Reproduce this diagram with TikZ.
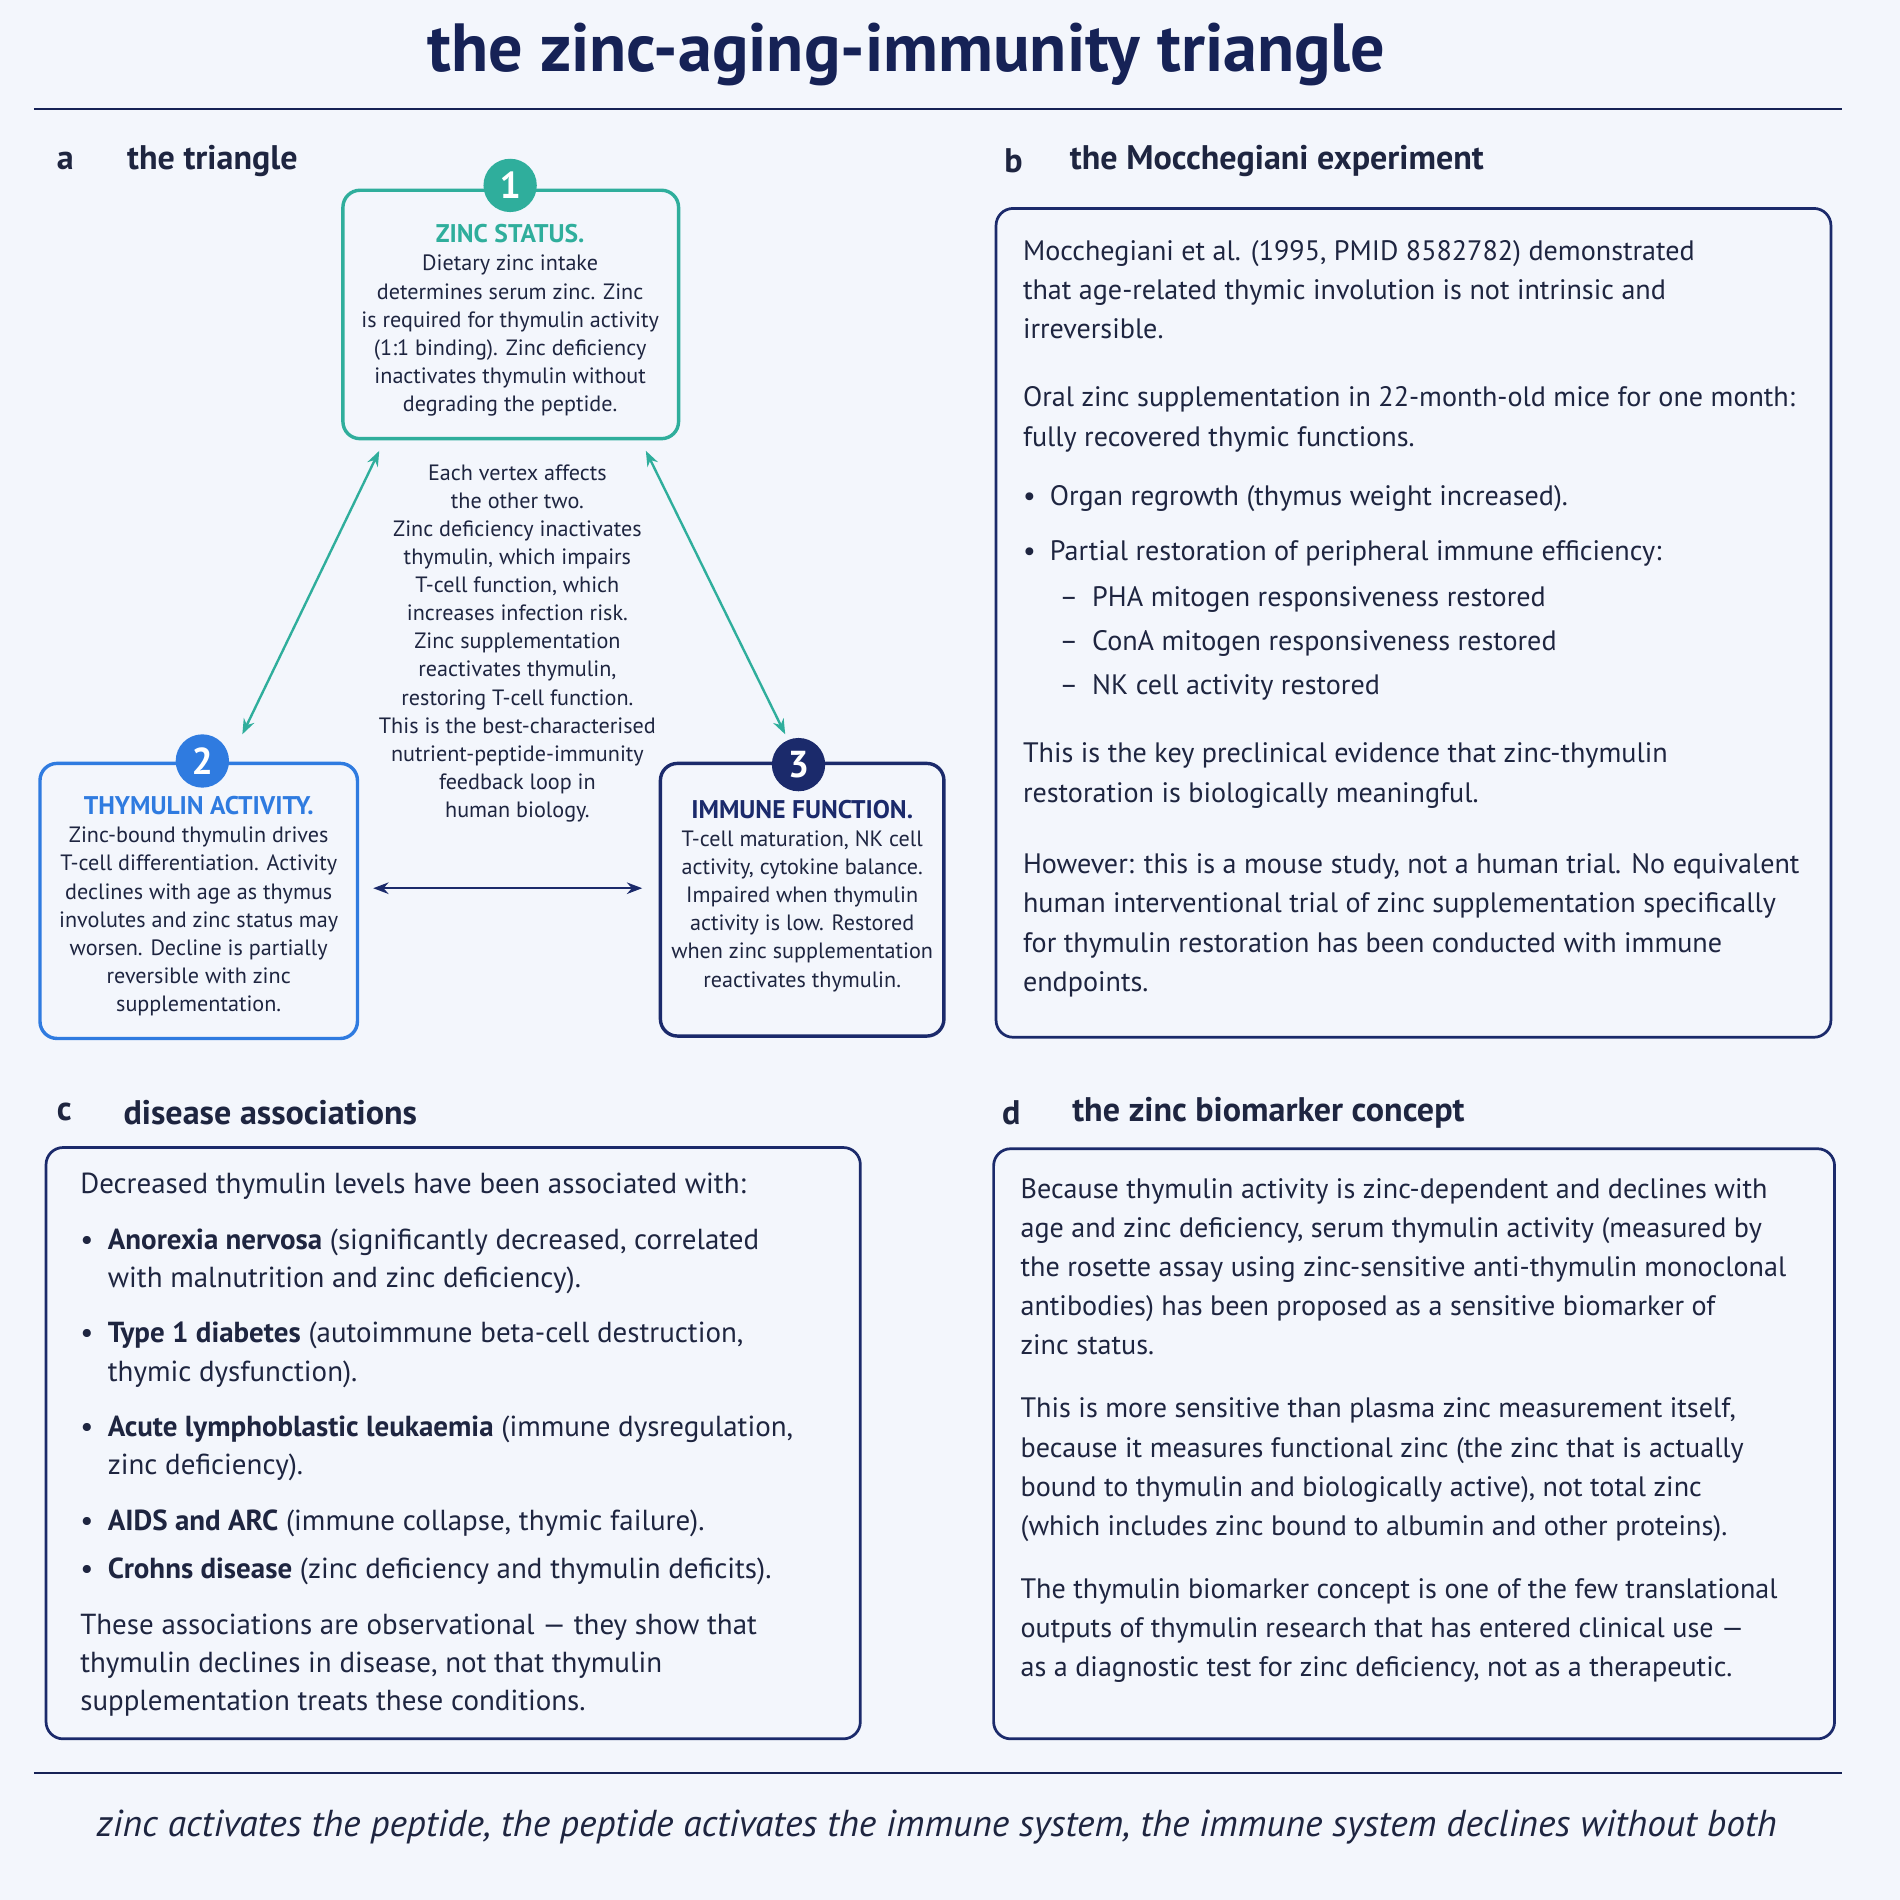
\documentclass[tikz,border=0pt]{standalone}
\usepackage{fontspec}
\setmainfont{PT Sans}
\usetikzlibrary{arrows.meta, positioning}
\definecolor{pagebg}{HTML}{F3F6FC}
\definecolor{inkc}{HTML}{1E2540}
\definecolor{navyc}{HTML}{1B2A6B}
\definecolor{tealc}{HTML}{2FAE9C}
\definecolor{bluec}{HTML}{2F7BE0}
\newcommand{\bul}{\textbullet\enspace}
\newcommand{\ind}{\phantom{\textbullet\enspace}}
\newcommand{\dsh}{\hspace*{1.3em}--\enspace}

\begin{document}
\begin{tikzpicture}[x=0.025cm, y=-0.025cm, text=inkc,
    panel/.style={draw=navyc, line width=1.6pt, rounded corners=10pt},
    vbox/.style={line width=2pt, rounded corners=10pt, fill=pagebg},
    badge/.style={circle, minimum size=1.1cm, inner sep=0pt, text=white, font=\fontsize{22}{22}\selectfont\bfseries},
    head/.style={anchor=west, font=\fontsize{20}{24}\selectfont\bfseries},
    body/.style={anchor=north west, inner sep=0pt, align=left, font=\fontsize{17}{22.5}\selectfont},
    wide/.style={body, font=\fontsize{16.5}{23}\selectfont},
    small/.style={anchor=north, inner sep=0pt, align=center, font=\fontsize{13}{16.5}\selectfont},
    link/.style={{Stealth[length=9pt]}-{Stealth[length=9pt]}, line width=1.4pt}
]
\fill[pagebg] (0,0) rectangle (1568,1568);
\useasboundingbox (0,0) rectangle (1568,1568);

% title and rules
\node[font=\fontsize{40}{44}\selectfont\bfseries, text=navyc!80!black] (title) at (748,45) {the zinc-aging-immunity triangle};
\draw[navyc!80!black, line width=1.5pt] (28,90) -- (1520,90);
\draw[navyc!80!black, line width=1.5pt] (28,1463) -- (1520,1463);
\node[font=\fontsize{22}{26}\selectfont\itshape] (motto) at (773,1508) {zinc activates the peptide, the peptide activates the immune system, the immune system declines without both};

% panel a
\node[head] (la) at (42,133) {a};
\node[head] (ta) at (100,133) {the triangle};

\draw[vbox, draw=tealc] (283,157) rectangle (560,362);
\node[small] (zinc) at (421,185) {{\fontsize{15}{18}\selectfont\bfseries\color{tealc}ZINC STATUS.}\\Dietary zinc intake\\determines serum zinc. Zinc\\is required for thymulin activity\\(1:1 binding). Zinc deficiency\\inactivates thymulin without\\degrading the peptide.};
\node[badge, fill=tealc] (b1) at (421,153) {1};

\draw[vbox, draw=bluec] (33,630) rectangle (295,857);
\node[small] (thym) at (164,657) {{\fontsize{15}{18}\selectfont\bfseries\color{bluec}THYMULIN ACTIVITY.}\\Zinc-bound thymulin drives\\T-cell differentiation. Activity\\declines with age as thymus\\involutes and zinc status may\\worsen. Decline is partially\\reversible with zinc\\supplementation.};
\node[badge, fill=bluec] (b2) at (167,628) {2};

\draw[vbox, draw=navyc] (545,630) rectangle (779,855);
\node[small] (immu) at (662,660) {{\fontsize{15}{18}\selectfont\bfseries\color{navyc}IMMUNE FUNCTION.}\\T-cell maturation, NK cell\\activity, cytokine balance.\\Impaired when thymulin\\activity is low. Restored\\when zinc supplementation\\reactivates thymulin.};
\node[badge, fill=navyc] (b3) at (659,631) {3};

\node[small] (loop) at (427,383) {Each vertex affects\\the other two.\\Zinc deficiency inactivates\\thymulin, which impairs\\T-cell function, which\\increases infection risk.\\Zinc supplementation\\reactivates thymulin,\\restoring T-cell function.\\This is the best-characterised\\nutrient-peptide-immunity\\feedback loop in\\human biology.};

\coordinate (z1) at (313,372); \coordinate (t1) at (200,606);
\coordinate (z2) at (533,372); \coordinate (i1) at (648,606);
\coordinate (t2) at (308,733); \coordinate (i2) at (530,733);
\draw[link, tealc] (z1) -- (t1);
\draw[link, tealc] (z2) -- (i1);
\draw[link, navyc] (t2) -- (i2);

% panel b
\node[head] (lb) at (824,133) {b};
\node[head] (tb) at (878,133) {the Mocchegiani experiment};
\draw[panel] (822,172) rectangle (1511,856);
\node[wide] (bt) at (844,198) {Mocchegiani et al. (1995, PMID 8582782) demonstrated\\that age-related thymic involution is not intrinsic and\\irreversible.\\[17pt]
Oral zinc supplementation in 22-month-old mice for one month:\\fully recovered thymic functions.\\[12pt]
\bul Organ regrowth (thymus weight increased).\\[9pt]
\bul Partial restoration of peripheral immune efficiency:\\[4pt]
\dsh PHA mitogen responsiveness restored\\[3pt]
\dsh ConA mitogen responsiveness restored\\[3pt]
\dsh NK cell activity restored\\[17pt]
This is the key preclinical evidence that zinc-thymulin\\restoration is biologically meaningful.\\[19pt]
However: this is a mouse study, not a human trial. No equivalent\\human interventional trial of zinc supplementation specifically\\for thymulin restoration has been conducted with immune\\endpoints.};

% panel c
\node[head] (lc) at (42,918) {c};
\node[head] (tc) at (97,918) {disease associations};
\draw[panel] (38,947) rectangle (710,1435);
\node[body] (ct) at (66,968) {Decreased thymulin levels have been associated with:\\[10pt]
\bul\textbf{Anorexia nervosa} (significantly decreased, correlated\\\ind with malnutrition and zinc deficiency).\\[10pt]
\bul\textbf{Type 1 diabetes} (autoimmune beta-cell destruction,\\\ind thymic dysfunction).\\[10pt]
\bul\textbf{Acute lymphoblastic leukaemia} (immune dysregulation,\\\ind zinc deficiency).\\[10pt]
\bul\textbf{AIDS and ARC} (immune collapse, thymic failure).\\[6pt]
\bul\textbf{Crohns disease} (zinc deficiency and thymulin deficits).\\[10pt]
These associations are observational --- they show that\\thymulin declines in disease, not that thymulin\\supplementation treats these conditions.};

% panel d
\node[head] (ld) at (822,918) {d};
\node[head] (td) at (880,918) {the zinc biomarker concept};
\draw[panel] (820,948) rectangle (1514,1435);
\node[wide] (dt) at (842,972) {Because thymulin activity is zinc-dependent and declines with\\age and zinc deficiency, serum thymulin activity (measured by\\the rosette assay using zinc-sensitive anti-thymulin monoclonal\\antibodies) has been proposed as a sensitive biomarker of\\zinc status.\\[14pt]
This is more sensitive than plasma zinc measurement itself,\\because it measures functional zinc (the zinc that is actually\\bound to thymulin and biologically active), not total zinc\\(which includes zinc bound to albumin and other proteins).\\[14pt]
The thymulin biomarker concept is one of the few translational\\outputs of thymulin research that has entered clinical use ---\\as a diagnostic test for zinc deficiency, not as a therapeutic.};
\end{tikzpicture}
\end{document}
